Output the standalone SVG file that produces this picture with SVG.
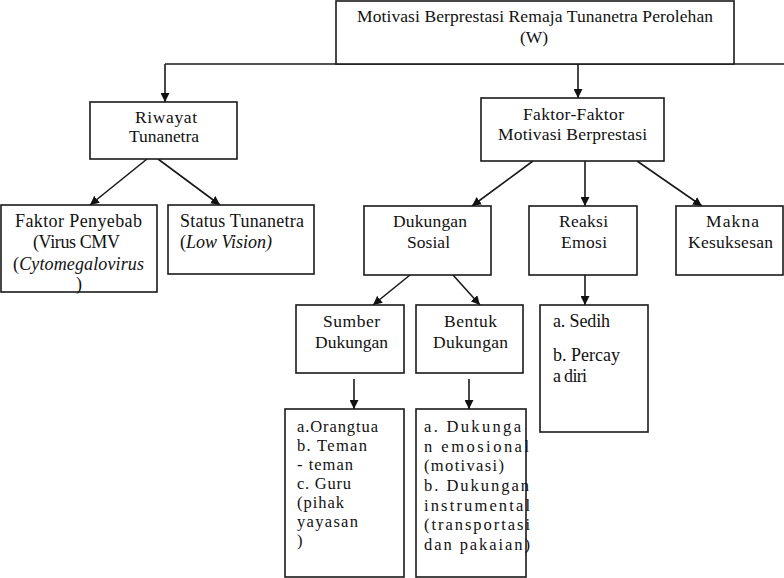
<svg xmlns="http://www.w3.org/2000/svg" width="784" height="578" viewBox="0 0 784 578">
<style>
.box{fill:#fff;stroke:#1a1a1a;stroke-width:1.6}
.t{font-family:"Liberation Serif","Times New Roman",serif;font-size:17.5px;fill:#111}
.l{font-size:18px}
.s{font-size:16.5px}
.i{font-style:italic}
.c{fill:none;stroke:#1a1a1a;stroke-width:1.6}
</style>
<defs>
<marker id="ah" markerUnits="userSpaceOnUse" markerWidth="10" markerHeight="9" refX="9" refY="4.5" orient="auto">
<path d="M0,0 L9,4.5 L0,9 z" fill="#111"/>
</marker>
</defs>
<rect width="784" height="578" fill="#fff"/>
<g id="connectors">
<path class="c" d="M165,64 H784"/>
<path class="c" d="M165,64 V102" marker-end="url(#ah)"/>
<path class="c" d="M578,64 V98" marker-end="url(#ah)"/>
<path class="c" d="M147,159 L90,205" marker-end="url(#ah)"/>
<path class="c" d="M158,159 L220,205" marker-end="url(#ah)"/>
<path class="c" d="M533,161 L472,206" marker-end="url(#ah)"/>
<path class="c" d="M585,161 V206" marker-end="url(#ah)"/>
<path class="c" d="M637,161 L702,206" marker-end="url(#ah)"/>
<path class="c" d="M410,275 L373,305" marker-end="url(#ah)"/>
<path class="c" d="M453,275 L480,305" marker-end="url(#ah)"/>
<path class="c" d="M354,379 V409" marker-end="url(#ah)"/>
<path class="c" d="M469,379 V409" marker-end="url(#ah)"/>
<path class="c" d="M585,275 V305" marker-end="url(#ah)"/>
</g>
<g id="top">
<rect class="box" x="336" y="1" width="398" height="63"/>
<text class="t" x="357" y="22" textLength="356" lengthAdjust="spacing">Motivasi Berprestasi Remaja Tunanetra Perolehan</text>
<text class="t" x="520" y="43" textLength="28" lengthAdjust="spacing">(W)</text>
</g>
<g id="riwayat">
<rect class="box" x="90" y="102" width="147" height="57"/>
<text class="t" x="135" y="123" textLength="62" lengthAdjust="spacing">Riwayat</text>
<text class="t" x="129" y="142" textLength="70" lengthAdjust="spacing">Tunanetra</text>
</g>
<g id="faktor-penyebab">
<rect class="box" x="1" y="205" width="156" height="87"/>
<text class="t l" x="15" y="227" textLength="127" lengthAdjust="spacing">Faktor Penyebab</text>
<text class="t l" x="33" y="248" textLength="87" lengthAdjust="spacing">(Virus CMV</text>
<text class="t l" x="13" y="270" textLength="131" lengthAdjust="spacing">(<tspan class="i">Cytomegalovirus</tspan></text>
<text class="t l" x="76" y="290">)</text>
</g>
<g id="status">
<rect class="box" x="168" y="205" width="146" height="69"/>
<text class="t l" x="180" y="227" textLength="124" lengthAdjust="spacing">Status Tunanetra</text>
<text class="t l" x="180" y="248" textLength="92" lengthAdjust="spacing">(<tspan class="i">Low Vision)</tspan></text>
</g>
<g id="faktor-faktor">
<rect class="box" x="481" y="98" width="183" height="63"/>
<text class="t" x="523" y="120" textLength="101" lengthAdjust="spacing">Faktor-Faktor</text>
<text class="t" x="498" y="140" textLength="149" lengthAdjust="spacing">Motivasi Berprestasi</text>
</g>
<g id="dukungan-sosial">
<rect class="box" x="364" y="206" width="127" height="69"/>
<text class="t" x="393" y="227" textLength="74" lengthAdjust="spacing">Dukungan</text>
<text class="t" x="407" y="248" textLength="43" lengthAdjust="spacing">Sosial</text>
</g>
<g id="reaksi-emosi">
<rect class="box" x="529" y="206" width="108" height="69"/>
<text class="t" x="559" y="227" textLength="49" lengthAdjust="spacing">Reaksi</text>
<text class="t" x="561" y="248" textLength="46" lengthAdjust="spacing">Emosi</text>
</g>
<g id="makna">
<rect class="box" x="676" y="206" width="107" height="69"/>
<text class="t" x="706" y="227" textLength="53" lengthAdjust="spacing">Makna</text>
<text class="t" x="688" y="248" textLength="85" lengthAdjust="spacing">Kesuksesan</text>
</g>
<g id="sumber">
<rect class="box" x="296" y="305" width="108" height="68"/>
<text class="t" x="323" y="327" textLength="57" lengthAdjust="spacing">Sumber</text>
<text class="t" x="315" y="348" textLength="73" lengthAdjust="spacing">Dukungan</text>
</g>
<g id="bentuk">
<rect class="box" x="416" y="305" width="107" height="68"/>
<text class="t" x="444" y="327" textLength="53" lengthAdjust="spacing">Bentuk</text>
<text class="t" x="433" y="348" textLength="75" lengthAdjust="spacing">Dukungan</text>
</g>
<g id="sumber-list">
<rect class="box" x="285" y="409" width="119" height="168"/>
<text class="t s" x="297" y="432" textLength="81" lengthAdjust="spacing">a.Orangtua</text>
<text class="t s" x="297" y="451" textLength="70" lengthAdjust="spacing">b.  Teman</text>
<text class="t s" x="297" y="470" textLength="56" lengthAdjust="spacing">- teman</text>
<text class="t s" x="297" y="489" textLength="54" lengthAdjust="spacing">c.  Guru</text>
<text class="t s" x="297" y="508" textLength="47" lengthAdjust="spacing">(pihak</text>
<text class="t s" x="297" y="527" textLength="61" lengthAdjust="spacing">yayasan</text>
<text class="t s" x="297" y="546">)</text>
</g>
<g id="bentuk-list">
<rect class="box" x="416" y="409" width="110" height="168"/>
<text class="t s" x="424" y="432" textLength="97" lengthAdjust="spacing">a. Dukunga</text>
<text class="t s" x="424" y="452" textLength="105" lengthAdjust="spacing">n emosional</text>
<text class="t s" x="424" y="471" textLength="80" lengthAdjust="spacing">(motivasi)</text>
<text class="t s" x="424" y="491" textLength="105" lengthAdjust="spacing">b. Dukungan</text>
<text class="t s" x="424" y="511" textLength="106" lengthAdjust="spacing">instrumental</text>
<text class="t s" x="424" y="530" textLength="106" lengthAdjust="spacing">(transportasi</text>
<text class="t s" x="424" y="550" textLength="106" lengthAdjust="spacing">dan pakaian)</text>
</g>
<g id="reaksi-list">
<rect class="box" x="540" y="305" width="108" height="127"/>
<text class="t l" x="553" y="327" textLength="57" lengthAdjust="spacing">a. Sedih</text>
<text class="t l" x="553" y="361" textLength="67" lengthAdjust="spacing">b. Percay</text>
<text class="t l" x="553" y="382" textLength="34" lengthAdjust="spacing">a diri</text>
</g>
</svg>
